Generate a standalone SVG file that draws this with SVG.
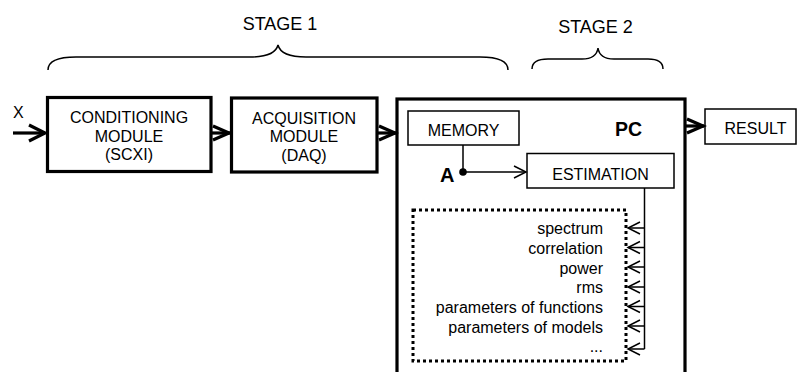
<svg xmlns="http://www.w3.org/2000/svg" width="797" height="372" viewBox="0 0 797 372">
  <style>
    text { font-family: "Liberation Sans", Arial, sans-serif; fill: #000; }
    .lbl { font-size: 16px; text-anchor: middle; }
    .item { font-size: 16px; text-anchor: end; }
    .stage { font-size: 18px; text-anchor: middle; }
    .bold { font-weight: bold; }
    .thick { fill: #fff; stroke: #000; stroke-width: 3.2; }
    .thin { fill: #fff; stroke: #000; stroke-width: 1.5; }
    .wire { fill: none; stroke: #000; stroke-width: 1.5; }
    .bigwire { fill: none; stroke: #000; stroke-width: 3.2; stroke-linejoin: miter; }
    .brace { fill: none; stroke: #000; stroke-width: 1.5; }
    .dots { fill: none; stroke: #000; stroke-width: 3; stroke-dasharray: 3 3; }
  </style>

  <!-- stage braces -->
  <g id="stage1">
    <path class="brace" d="M48,70 C48,61 58,57 76,57 L250,57 C268,57 276,53 278,45 C280,53 288,57 306,57 L480,57 C498,57 508,61 508,70"/>
    <text class="stage" x="280" y="30">STAGE 1</text>
  </g>
  <g id="stage2">
    <path class="brace" d="M532,69 C532,62 537,59 548,59 L582,59 C592,59 597,55 598,48 C599,55 604,59 614,59 L648,59 C658,59 663,62 663,69"/>
    <text class="stage" x="595.5" y="33">STAGE 2</text>
  </g>

  <!-- input -->
  <g id="input">
    <text x="13" y="118" font-size="16">X</text>
  </g>

  <g id="conditioning">
    <rect class="thick" x="47.5" y="97.5" width="163.5" height="74"/>
    <text class="lbl" x="129" y="123">CONDITIONING</text>
    <text class="lbl" x="129" y="141.5">MODULE</text>
    <text class="lbl" x="129" y="160">(SCXI)</text>
  </g>

  <g id="acquisition">
    <rect class="thick" x="231.5" y="98" width="145.5" height="74"/>
    <text class="lbl" x="304" y="123.5">ACQUISITION</text>
    <text class="lbl" x="304" y="142">MODULE</text>
    <text class="lbl" x="304" y="160.5">(DAQ)</text>
  </g>

  <g id="pc">
    <rect class="thick" x="397" y="99" width="288" height="280"/>
    <text x="615" y="136" font-size="19.5" class="bold">PC</text>
  </g>

  <g id="memory">
    <rect class="thin" x="408" y="111" width="111" height="34"/>
    <text class="lbl" x="463.5" y="136">MEMORY</text>
  </g>

  <g id="estimation">
    <rect class="thin" x="527" y="153.5" width="147" height="34.5"/>
    <text class="lbl" x="600.5" y="180">ESTIMATION</text>
  </g>

  <g id="results-list">
    <rect class="dots" x="413" y="210" width="213" height="151"/>
    <text class="item" x="603" y="234">spectrum</text>
    <text class="item" x="603" y="254">correlation</text>
    <text class="item" x="603" y="273.5">power</text>
    <text class="item" x="603" y="293">rms</text>
    <text class="item" x="603" y="312.5">parameters of functions</text>
    <text class="item" x="603" y="332.5">parameters of models</text>
    <text class="item" x="603" y="352">...</text>
  </g>

  <g id="result">
    <rect class="thin" x="705" y="109" width="91" height="35"/>
    <text class="lbl" x="755.5" y="134">RESULT</text>
  </g>

  <g id="connectors">
    <!-- X into conditioning -->
    <path class="bigwire" d="M13,133 H45"/>
    <path class="bigwire" d="M29,125 L45,133 L29,141"/>
    <!-- conditioning to acquisition -->
    <path class="bigwire" d="M212,133 H230"/>
    <path class="bigwire" d="M213,126 L229,133 L213,140"/>
    <!-- acquisition to PC -->
    <path class="bigwire" d="M378,133 H396"/>
    <path class="bigwire" d="M379,126 L395,133 L379,140"/>
    <!-- PC to result -->
    <path class="bigwire" d="M686,126 H704"/>
    <path class="bigwire" d="M687,119 L703,126 L687,133"/>
    <!-- memory tap A to estimation -->
    <path class="wire" d="M463,145 V172 H526"/>
    <path class="wire" d="M514,166 L526,172 L514,178"/>
    <circle cx="463" cy="172" r="3.8" fill="#000"/>
    <text x="440" y="182" font-size="20" class="bold">A</text>
    <!-- estimation outputs -->
    <path class="wire" d="M644.5,188 V349"/>
    <path class="wire" d="M644.5,228 H628 M644.5,247.5 H628 M644.5,267 H628 M644.5,287 H628 M644.5,306.5 H628 M644.5,326 H628 M644.5,349 H628"/>
    <path class="wire" d="M640,222 L628,228 L640,234 M640,241.5 L628,247.5 L640,253.5 M640,261 L628,267 L640,273 M640,281 L628,287 L640,293 M640,300.5 L628,306.5 L640,312.5 M640,320 L628,326 L640,332 M640,343 L628,349 L640,355"/>
  </g>
</svg>
